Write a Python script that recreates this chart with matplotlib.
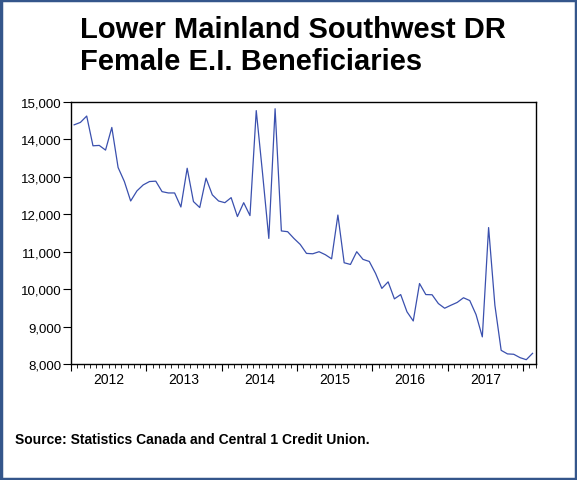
import matplotlib.pyplot as plt
from matplotlib.patches import Rectangle
from matplotlib.ticker import FuncFormatter, MultipleLocator

# monthly values, Jan 2012 to Feb 2018
beneficiaries = [
    14390, 14455, 14625, 13830, 13840, 13715, 14320, 13250, 12875, 12355, 12625, 12785,
    12875, 12885, 12605, 12570, 12570, 12195, 13230, 12340, 12180, 12965, 12520, 12355,
    12310, 12445, 11940, 12310, 11965, 14770, 13100, 11355, 14820, 11555, 11535, 11355,
    11195, 10955, 10945, 11000, 10920, 10810, 11980, 10705, 10660, 11000, 10795, 10740,
    10420, 10020, 10195, 9740, 9855, 9395, 9150, 10150, 9855, 9850, 9615, 9490,
    9570, 9645, 9770, 9695, 9320, 8725, 11645, 9570, 8365, 8270, 8260, 8170,
    8115, 8285,
]
years = [2012, 2013, 2014, 2015, 2016, 2017]

months = [i + 0.5 for i in range(len(beneficiaries))]

plt.rcParams['font.family'] = ['Liberation Sans', 'DejaVu Sans']

fig = plt.figure(figsize=(5.77, 4.81), dpi=100)
ax = fig.add_axes([71 / 577, 1 - 365 / 481, (535.7 - 71) / 577, (365 - 103) / 481])

ax.plot(months, beneficiaries, color='#3a50ae', linewidth=0.9)

ax.set_xlim(0, 74)
ax.set_ylim(8000, 15000)

ax.set_xticks([12 * k for k in range(7)])
ax.xaxis.set_minor_locator(MultipleLocator(1))
ax.set_xticklabels([])
for k, yr in enumerate(years):
    ax.text(12 * k + 6, -0.032, str(yr), transform=ax.get_xaxis_transform(),
            ha='center', va='top', fontsize=10)

ax.yaxis.set_major_locator(MultipleLocator(1000))
ax.yaxis.set_major_formatter(FuncFormatter(lambda v, p: f"{int(v):,}"))
ax.tick_params(axis='y', direction='out', length=6, width=0.8, labelsize=9.5, pad=1)
ax.tick_params(axis='x', which='major', direction='out', length=5, width=0.8)
ax.tick_params(axis='x', which='minor', direction='out', length=3, width=0.6)

for s in ax.spines.values():
    s.set_linewidth(1.0)

fig.text(80 / 577, 1 - 38 / 481, "Lower Mainland Southwest DR", fontsize=21,
         fontweight='bold', ha='left', va='baseline')
fig.text(80 / 577, 1 - 70 / 481, "Female E.I. Beneficiaries", fontsize=21,
         fontweight='bold', ha='left', va='baseline')
fig.text(15 / 577, 1 - 440 / 481, "Source: Statistics Canada and Central 1 Credit Union.",
         fontsize=10, fontweight='bold', ha='left', va='center')

fig.patches.append(Rectangle((0.002, 0.003), 0.996, 0.994, transform=fig.transFigure,
                             fill=False, edgecolor='#34568B', linewidth=2.5))

fig.savefig("out.png", dpi=100)
